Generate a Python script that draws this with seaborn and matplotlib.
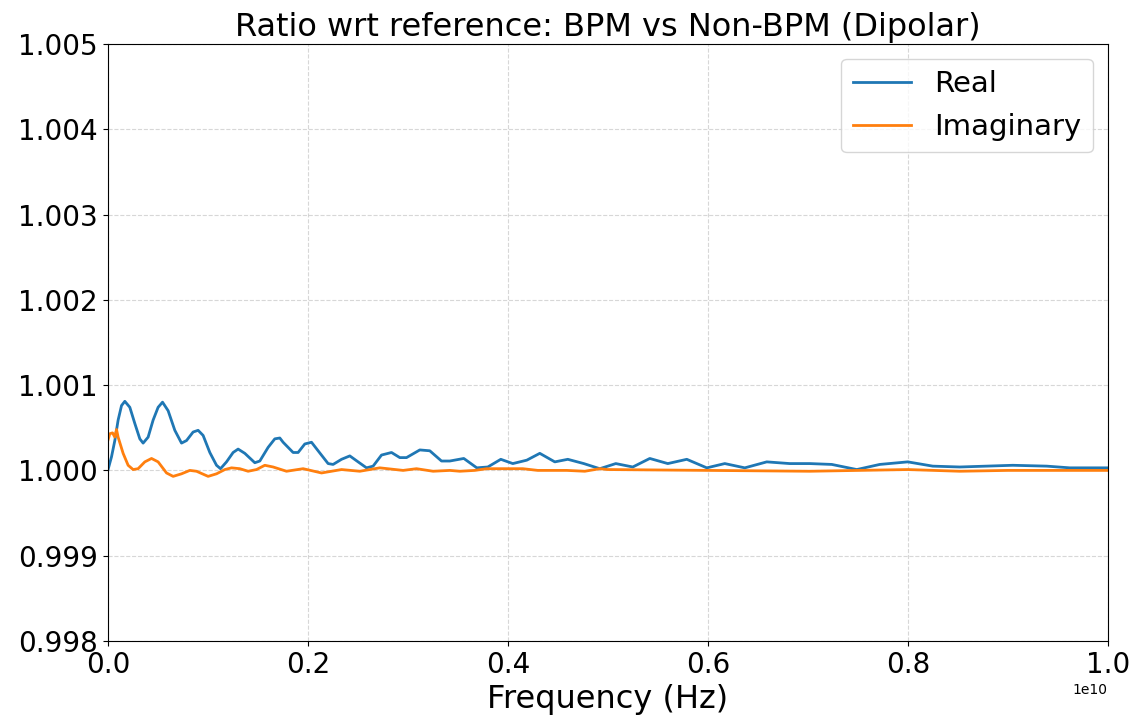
import matplotlib.pyplot as plt
import pandas as pd
import seaborn as sns

# values (x in units of 1e10 Hz)
real_freq = [0.000, 0.0037, 0.007, 0.0103, 0.0137, 0.017, 0.022, 0.027, 0.032, 0.0353,
             0.0403, 0.0453, 0.0503, 0.0547, 0.0603, 0.067, 0.0737, 0.0787, 0.0853,
             0.0903, 0.0953, 0.102, 0.1087, 0.1127, 0.1187, 0.1253, 0.1303, 0.137,
             0.147, 0.152, 0.1603, 0.167, 0.172, 0.1753, 0.1853, 0.1903, 0.197,
             0.2037, 0.2103, 0.2203, 0.2253, 0.2337, 0.242, 0.2503, 0.2587, 0.2653,
             0.2737, 0.2837, 0.292, 0.2987, 0.312, 0.322, 0.3337, 0.342, 0.356,
             0.369, 0.380, 0.393, 0.405, 0.419, 0.432, 0.447, 0.460, 0.476, 0.492,
             0.508, 0.525, 0.542, 0.560, 0.579, 0.599, 0.617, 0.637, 0.659, 0.682,
             0.702, 0.724, 0.749, 0.772, 0.800, 0.825, 0.852, 0.905, 0.939, 0.962,
             1.000]
real_ratio = [1.00000, 1.00016, 1.00035, 1.00059, 1.00076, 1.00081, 1.00074, 1.00055,
              1.00037, 1.00032, 1.00039, 1.00059, 1.00074, 1.00080, 1.00070, 1.00047,
              1.00032, 1.00035, 1.00045, 1.00047, 1.00041, 1.00021, 1.00006, 1.00002,
              1.00010, 1.00021, 1.00025, 1.00020, 1.00009, 1.00011, 1.00027, 1.00037,
              1.00038, 1.00033, 1.00021, 1.00021, 1.00031, 1.00033, 1.00023, 1.00008,
              1.00007, 1.00013, 1.00017, 1.00010, 1.00003, 1.00005, 1.00018, 1.00021,
              1.00015, 1.00015, 1.00024, 1.00023, 1.00011, 1.00011, 1.00014, 1.00003,
              1.00004, 1.00013, 1.00008, 1.00012, 1.00020, 1.00010, 1.00013, 1.00008,
              1.00002, 1.00008, 1.00004, 1.00014, 1.00008, 1.00013, 1.00003, 1.00008,
              1.00003, 1.00010, 1.00008, 1.00008, 1.00007, 1.00001, 1.00007, 1.00010,
              1.00005, 1.00004, 1.00006, 1.00005, 1.00003, 1.00003]

imag_freq = [0.000, 0.002, 0.0047, 0.007, 0.0087, 0.0103, 0.0153, 0.0203, 0.0253,
             0.0303, 0.037, 0.0437, 0.0503, 0.0587, 0.0653, 0.0737, 0.082, 0.0887,
             0.1003, 0.1087, 0.117, 0.1237, 0.132, 0.1403, 0.1487, 0.157, 0.1653,
             0.1787, 0.1953, 0.2137, 0.2337, 0.252, 0.272, 0.2953, 0.3087, 0.3253,
             0.342, 0.352, 0.367, 0.379, 0.415, 0.430, 0.459, 0.477, 0.492, 0.500,
             0.600, 0.702, 0.800, 0.852, 0.900, 1.000]
imag_ratio = [1.00035, 1.00043, 1.00044, 1.00039, 1.00048, 1.00039, 1.00020, 1.00006,
              1.00001, 1.00002, 1.00010, 1.00014, 1.00010, 0.99997, 0.99993, 0.99996,
              1.00000, 0.99999, 0.99993, 0.99996, 1.00001, 1.00003, 1.00002, 0.99999,
              1.00001, 1.00006, 1.00004, 0.99999, 1.00002, 0.99997, 1.00001, 0.99999,
              1.00003, 1.00000, 1.00002, 0.99999, 1.00000, 0.99999, 1.00000, 1.00002,
              1.00002, 1.00000, 1.00000, 0.99999, 1.00002, 1.00001, 1.00000, 0.99999,
              1.00001, 0.99999, 1.00000, 1.00000]

df_real = pd.DataFrame({"freq": [f * 1e10 for f in real_freq], "ratio": real_ratio})
df_imag = pd.DataFrame({"freq": [f * 1e10 for f in imag_freq], "ratio": imag_ratio})

fig, ax = plt.subplots(figsize=(11.35, 7.21), dpi=100)
fig.subplots_adjust(left=0.095, right=0.976, top=0.939, bottom=0.111)

sns.lineplot(data=df_real, x="freq", y="ratio", ax=ax, color="#1f77b4",
             linewidth=2, label="Real", estimator=None, sort=False)
sns.lineplot(data=df_imag, x="freq", y="ratio", ax=ax, color="#ff7f0e",
             linewidth=2, label="Imaginary", estimator=None, sort=False)

ax.set_xlim(0, 1e10)
ax.set_ylim(0.998, 1.005)
ax.set_title("Ratio wrt reference: BPM vs Non-BPM (Dipolar)", fontsize=23)
ax.set_xlabel("Frequency (Hz)", fontsize=23)
ax.set_ylabel("")
ax.tick_params(labelsize=20)
ax.grid(True, linestyle="--", alpha=0.5)
ax.legend(fontsize=21, loc="upper right")

plt.savefig("out.png", dpi=100)
